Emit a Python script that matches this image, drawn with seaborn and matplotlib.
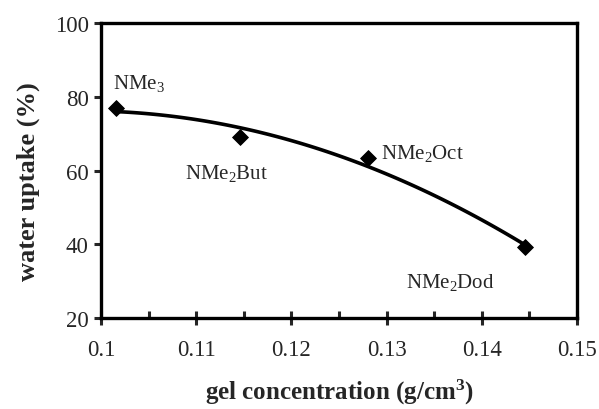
import numpy as np
import pandas as pd
import matplotlib
matplotlib.use('Agg')
import matplotlib.pyplot as plt
import seaborn as sns

# data
gel_conc = [0.1016, 0.1146, 0.1280, 0.1445]
uptake = [76.9, 69.1, 63.4, 39.3]
names = ['NMe$_3$', 'NMe$_2$But', 'NMe$_2$Oct', 'NMe$_2$Dod']
label_x = [0.1012, 0.1088, 0.1294, 0.1320]
label_y = [84.0, 59.6, 65.0, 29.8]

x_ticks = [0.1, 0.11, 0.12, 0.13, 0.14, 0.15]
y_ticks = [20, 40, 60, 80, 100]

sns.set_style('ticks')
plt.rcParams['font.family'] = ['Liberation Serif', 'DejaVu Serif']
plt.rcParams['mathtext.fontset'] = 'custom'
plt.rcParams['mathtext.rm'] = 'Liberation Serif'
plt.rcParams['mathtext.it'] = 'Liberation Serif:italic'
plt.rcParams['mathtext.bf'] = 'Liberation Serif:bold'

df = pd.DataFrame({'conc': gel_conc, 'uptake': uptake})

# second order polynomial trend line
coef = np.polyfit(df['conc'], df['uptake'], 2)
xs = np.linspace(gel_conc[0], gel_conc[-1], 100)
trend = pd.DataFrame({'conc': xs, 'uptake': np.polyval(coef, xs)})

fig, ax = plt.subplots(figsize=(5.99, 4.10), dpi=100)
fig.subplots_adjust(left=0.169, right=0.963, top=0.941, bottom=0.222)

sns.lineplot(data=trend, x='conc', y='uptake', color='black', linewidth=2.6, ax=ax)
sns.scatterplot(data=df, x='conc', y='uptake', marker='D', s=65, color='black',
                edgecolor='black', ax=ax, zorder=3)

for nm, lx, ly in zip(names, label_x, label_y):
    ax.text(lx, ly, nm, fontsize=15, va='center', ha='left')

ax.set_xlim(0.1, 0.15)
ax.set_ylim(20, 100)
ax.set_xticks(x_ticks)
ax.set_xticklabels(['0.1', '0.11', '0.12', '0.13', '0.14', '0.15'])
ax.set_xticks([0.105, 0.115, 0.125, 0.135, 0.145], minor=True)
ax.set_yticks(y_ticks)

ax.set_xlabel('gel concentration (g/cm$^\\mathbf{3}$)', fontsize=18, fontweight='bold', labelpad=12)
ax.set_ylabel('water uptake (%)', fontsize=19, fontweight='bold')
ax.yaxis.set_label_coords(-0.128, 0.465)

for sp in ax.spines.values():
    sp.set_visible(True)
    sp.set_linewidth(2.4)
    sp.set_color('black')

ax.tick_params(axis='x', which='major', direction='inout', length=10, width=2.2, labelsize=16.5, pad=10)
ax.tick_params(axis='x', which='minor', direction='in', length=5, width=2.2)
ax.tick_params(axis='y', which='major', direction='out', length=5, width=2.2, labelsize=16.5, pad=4)

fig.savefig('out.png', dpi=100)
